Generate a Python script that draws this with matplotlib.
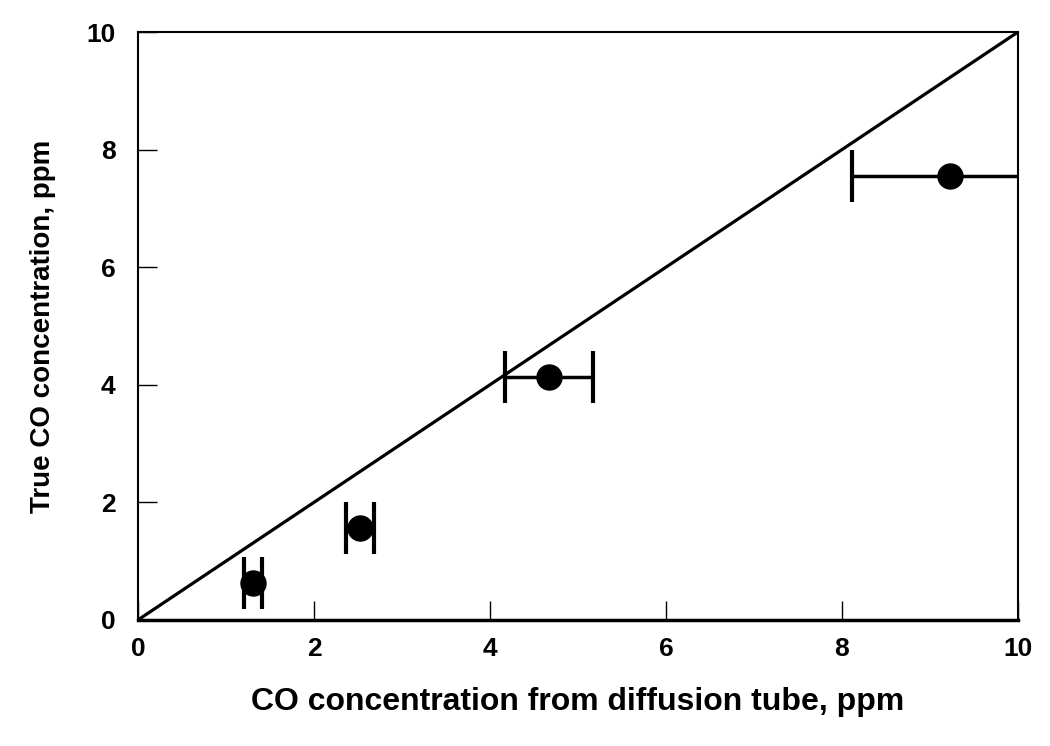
import numpy as np
import matplotlib.pyplot as plt

# measured points: diffusion tube (x) vs true concentration (y)
tube_co = np.array([1.31, 2.52, 4.67, 9.23])
true_co = np.array([0.62, 1.56, 4.13, 7.55])
tube_err = np.array([0.10, 0.16, 0.50, 1.12])

line_x = [0, 10]
line_y = [0, 10]

plt.rcParams['font.family'] = ['Liberation Sans', 'DejaVu Sans']
plt.rcParams['font.weight'] = 'bold'

fig = plt.figure(figsize=(10.5, 7.46), dpi=100)
ax = fig.add_axes([0.1314, 0.169, 0.838, 0.788])

ax.plot(line_x, line_y, color='black', lw=2.3, clip_on=True)
ax.errorbar(tube_co, true_co, xerr=tube_err, fmt='o', color='black',
            ms=18, elinewidth=2.5, capsize=19, capthick=3, zorder=3)

ax.set_xlim(0, 10)
ax.set_ylim(0, 10)
ax.set_xticks(np.arange(0, 11, 2))
ax.set_yticks(np.arange(0, 11, 2))
ax.tick_params(direction='in', length=14, width=1, labelsize=19, pad=12,
               top=False, right=False)
ax.tick_params(axis='y', pad=16)
for lbl in ax.get_xticklabels() + ax.get_yticklabels():
    lbl.set_fontweight('bold')
for s in ax.spines.values():
    s.set_linewidth(1.5)
ax.spines['bottom'].set_linewidth(2.5)

ax.set_xlabel('CO concentration from diffusion tube, ppm', fontsize=23,
              fontweight='bold', labelpad=19)
ax.set_ylabel('True CO concentration, ppm', fontsize=20,
              fontweight='bold', labelpad=22)

fig.savefig('out.png', dpi=100, facecolor='white')
